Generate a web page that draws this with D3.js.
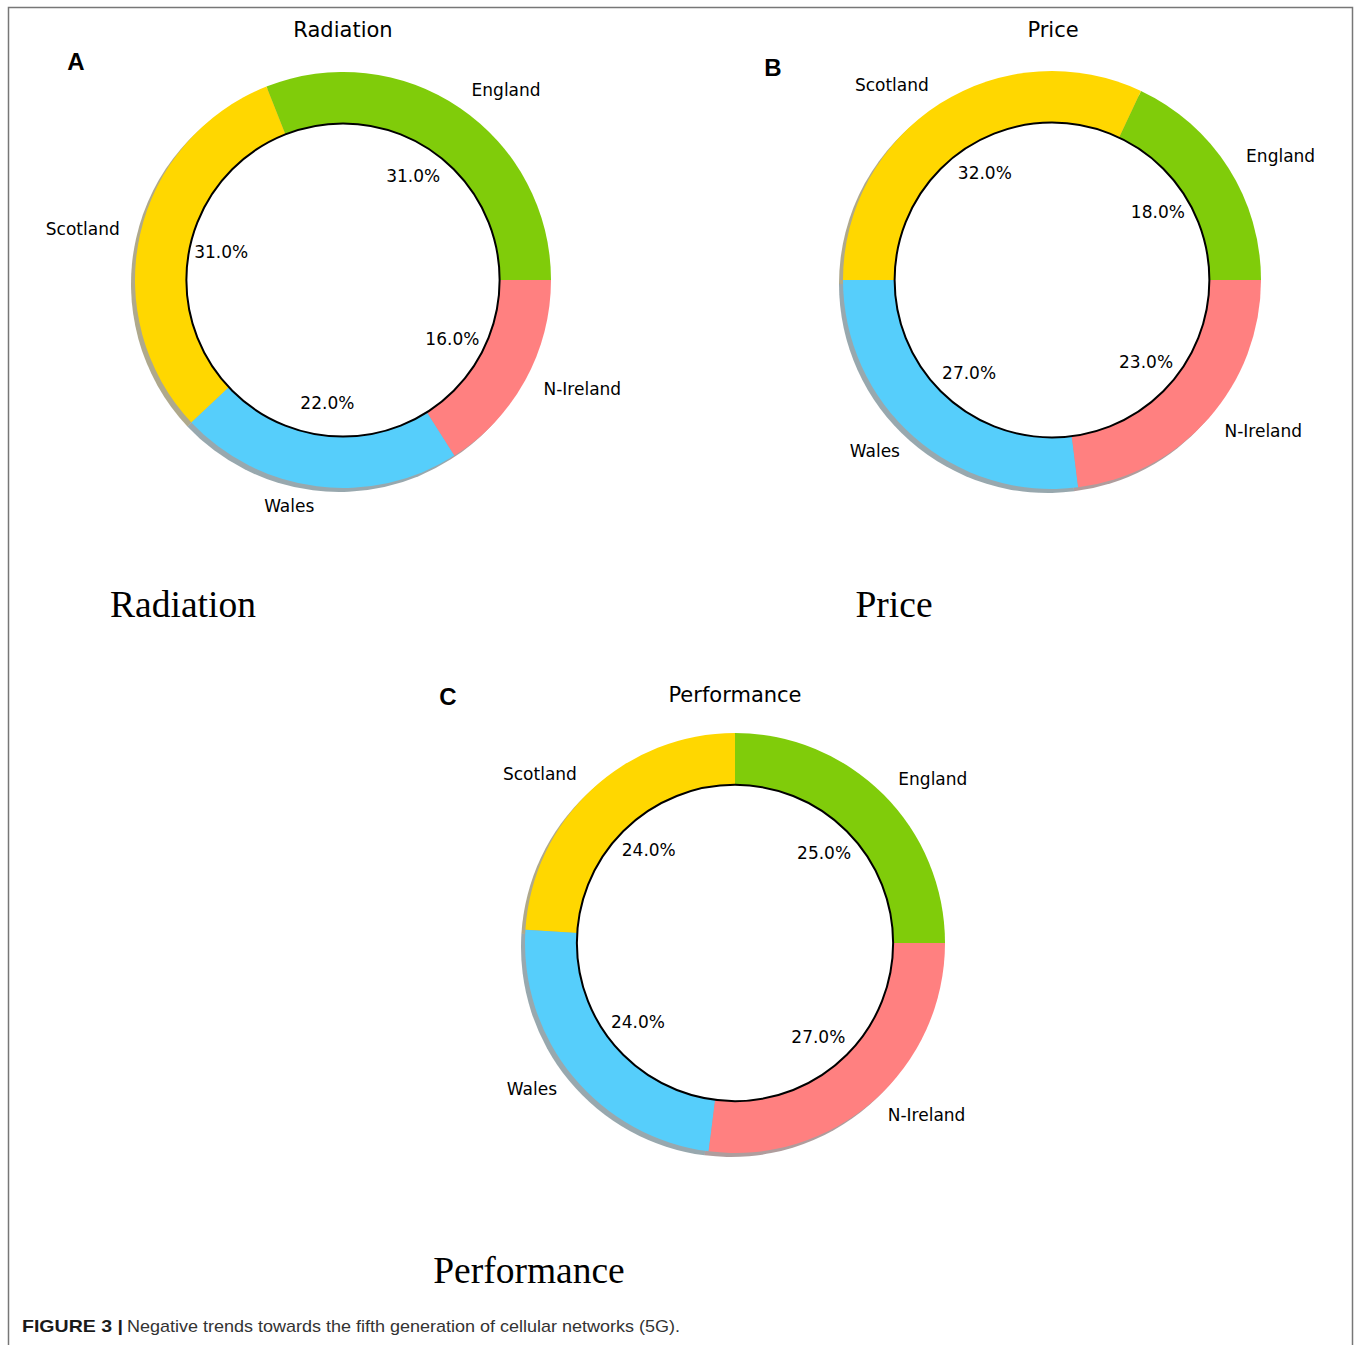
<!DOCTYPE html>
<html>
<head>
<meta charset="utf-8">
<script src="https://cdn.jsdelivr.net/npm/d3@7"></script>
<style>
html,body{margin:0;padding:0;background:#fff;}
svg{display:block;}
</style>
</head>
<body>
<script>
const categories = ["England", "Scotland", "Wales", "N-Ireland"];
const radiationValues = [31, 31, 22, 16];
const priceValues = [18, 32, 27, 23];
const performanceValues = [25, 24, 24, 27];
const panelTitles = ["Radiation", "Price", "Performance"];
const panelLetters = ["A", "B", "C"];
const colors = ["#80cc0a", "#ffd700", "#56cefb", "#ff8080"];

const W = 1356, H = 1345;
const svg = d3.select("body").append("svg").attr("width", W).attr("height", H);

// figure border
svg.append("path")
  .attr("d", `M8.5,${H} L8.5,7.5 L1352.5,7.5 L1352.5,${H}`)
  .attr("fill", "none").attr("stroke", "#777").attr("stroke-width", 1.5);

const panels = [
  {values: radiationValues, cx: 343, cy: 280, R: 208, title: panelTitles[0], tx: 343, ty: 30, letter: panelLetters[0], lx: 76, ly: 61, big: panelTitles[0], bx: 183, by: 617},
  {values: priceValues, cx: 1052, cy: 280, R: 209, title: panelTitles[1], tx: 1053, ty: 30, letter: panelLetters[1], lx: 773, ly: 67, big: panelTitles[1], bx: 894, by: 617},
  {values: performanceValues, cx: 735, cy: 943, R: 210, title: panelTitles[2], tx: 735, ty: 695, letter: panelLetters[2], lx: 448, ly: 696, big: panelTitles[2], bx: 529, by: 1283}
];

// matplotlib: start at 3 o'clock, counter-clockwise
const pie = d3.pie().sort(null).value(d => d.v)
  .startAngle(Math.PI / 2).endAngle(Math.PI / 2 - 2 * Math.PI);

panels.forEach(p => {
  const g = svg.append("g").attr("transform", `translate(${p.cx},${p.cy})`);
  const data = categories.map((c, i) => ({name: c, v: p.values[i], color: colors[i]}));
  const arcs = pie(data);
  const arc = d3.arc().innerRadius(0).outerRadius(p.R);
  const total = d3.sum(p.values);

  // shadow
  const sh = g.append("g").attr("transform", "translate(-4,4)");
  sh.selectAll("path").data(arcs).join("path")
    .attr("d", arc)
    .attr("fill", d => { const c = d3.rgb(d.data.color); return d3.rgb(c.r * 0.3, c.g * 0.3, c.b * 0.3); })
    .attr("fill-opacity", 0.45);

  // wedges
  g.selectAll("path.w").data(arcs).join("path").attr("class", "w")
    .attr("d", arc)
    .attr("fill", d => d.data.color);

  // centre circle
  g.append("circle").attr("r", p.R * 0.753)
    .attr("fill", "#fff").attr("stroke", "#000").attr("stroke-width", 2);

  // labels
  arcs.forEach(d => {
    const m = (d.startAngle + d.endAngle) / 2;
    const lx = 1.1 * p.R * Math.sin(m), ly = -1.1 * p.R * Math.cos(m) - 1;
    g.append("text").attr("x", lx).attr("y", ly)
      .attr("text-anchor", lx > 0 ? "start" : "end")
      .attr("dominant-baseline", "central")
      .attr("font-family", "DejaVu Sans").attr("font-size", 17).attr("fill", "#000")
      .text(d.data.name);
    const px = 0.6 * p.R * Math.sin(m), py = -0.6 * p.R * Math.cos(m) - 1;
    g.append("text").attr("x", px).attr("y", py)
      .attr("text-anchor", "middle").attr("dominant-baseline", "central")
      .attr("font-family", "DejaVu Sans").attr("font-size", 17).attr("fill", "#000")
      .text((d.data.v / total * 100).toFixed(1) + "%");
  });

  // title
  svg.append("text").attr("x", p.tx).attr("y", p.ty)
    .attr("text-anchor", "middle").attr("dominant-baseline", "central")
    .attr("font-family", "DejaVu Sans").attr("font-size", 21).attr("fill", "#000")
    .text(p.title);
  // panel letter
  svg.append("text").attr("x", p.lx).attr("y", p.ly)
    .attr("text-anchor", "middle").attr("dominant-baseline", "central")
    .attr("font-family", "Liberation Sans").attr("font-weight", "bold").attr("font-size", 24).attr("fill", "#000")
    .text(p.letter);
  // big serif caption
  svg.append("text").attr("x", p.bx).attr("y", p.by)
    .attr("text-anchor", "middle")
    .attr("font-family", "Liberation Serif").attr("font-size", 37.5).attr("fill", "#000")
    .text(p.big);
});

// figure caption
svg.append("text").attr("x", 22).attr("y", 1332)
  .attr("font-family", "Liberation Sans").attr("font-weight", "bold").attr("font-size", 17)
  .attr("fill", "#1a1a1a").attr("textLength", 101).attr("lengthAdjust", "spacingAndGlyphs")
  .text("FIGURE 3 |");
svg.append("text").attr("x", 127).attr("y", 1332)
  .attr("font-family", "Liberation Sans").attr("font-size", 17)
  .attr("fill", "#333").attr("textLength", 553).attr("lengthAdjust", "spacingAndGlyphs")
  .text("Negative trends towards the fifth generation of cellular networks (5G).");
</script>
</body>
</html>
